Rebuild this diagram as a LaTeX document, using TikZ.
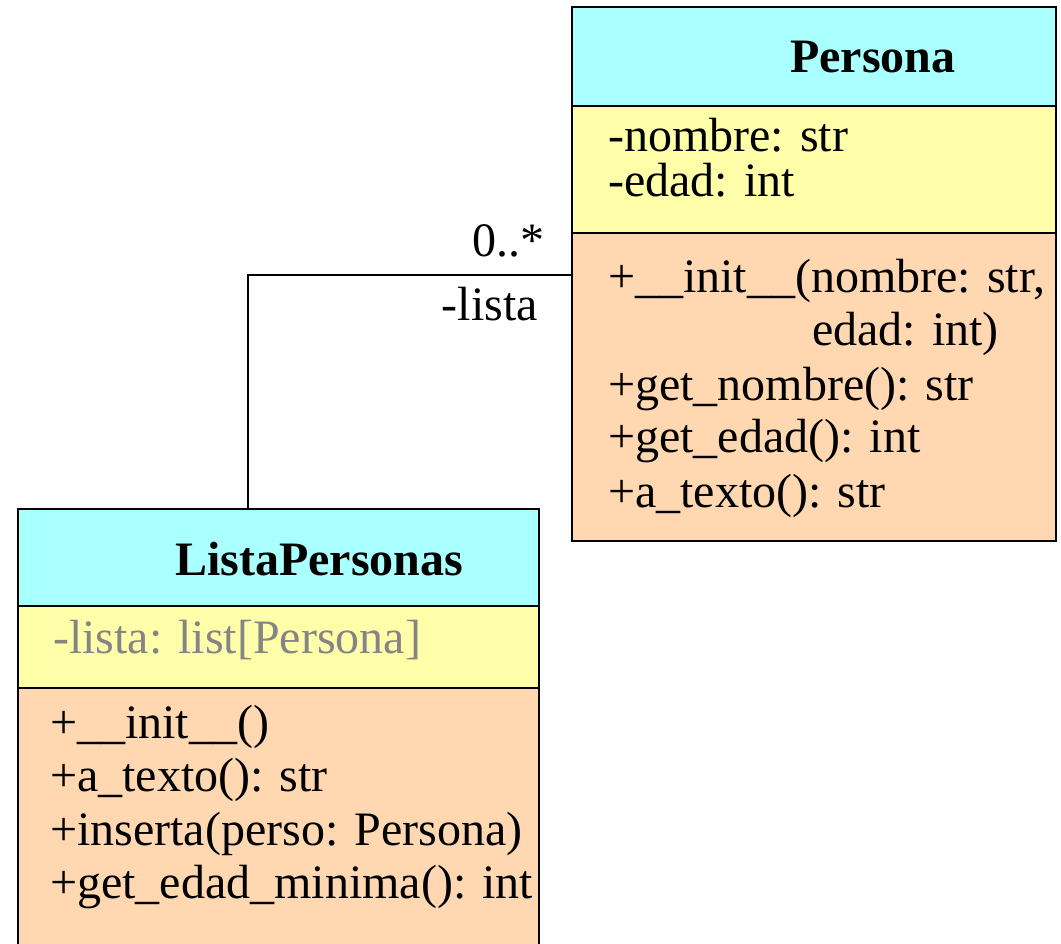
\documentclass[tikz,border=0pt]{standalone}
\usepackage{fontspec}
\setmainfont{Liberation Serif}
\definecolor{umlcyan}{HTML}{AAFFFF}
\definecolor{umlyellow}{HTML}{FFFFAA}
\definecolor{umlpeach}{HTML}{FFD8B1}
\definecolor{umlgray}{HTML}{858585}
\tikzset{compart/.style={draw=black, line width=2.5pt, anchor=north west, inner sep=0pt, outer sep=0pt, fill=#1},
compart/.default={white},
txt/.style={anchor=base west, inner sep=0pt, font=\fontsize{48}{54}\selectfont},
ttl/.style={txt, font=\fontsize{48}{54}\selectfont\bfseries}}

\begin{document}
\begin{tikzpicture}[x=1pt, y=-1pt]

\useasboundingbox (0,0) rectangle (1061,944);
\clip (0,0) rectangle (1061,944);

% Persona
\node[compart=umlcyan, minimum width=484pt, minimum height=99pt] (ptitle) at (572,7) {};
\node[compart=umlyellow, minimum width=484pt, minimum height=127pt] (pattr) at (572,106) {};
\node[compart=umlpeach, minimum width=484pt, minimum height=308pt] (pmeth) at (572,233) {};

\node[ttl] (pname) at (790,73) {Persona};
\node[txt] (pa1) at (608,152) {-nombre: str};
\node[txt] (pa2) at (608,197) {-edad: int};

\node[txt] (pm1) at (608,293) {+\_\_init\_\_(nombre: str,};
\node[txt] (pm2) at (812,345) {edad: int)};
\node[txt] (pm3) at (608,400) {+get\_nombre(): str};
\node[txt] (pm4) at (608,452) {+get\_edad(): int};
\node[txt] (pm5) at (608,507) {+a\_texto(): str};

% ListaPersonas
\node[compart=umlcyan, minimum width=521pt, minimum height=97pt] (ltitle) at (18,509) {};
\node[compart=umlyellow, minimum width=521pt, minimum height=82pt] (lattr) at (18,606) {};
\node[compart=umlpeach, minimum width=521pt, minimum height=290pt] (lmeth) at (18,688) {};

\node[ttl] (lname) at (175,575) {ListaPersonas};
\node[txt, text=umlgray] (la1) at (53,653) {-lista: list[Persona]};

\foreach \t [count=\i] in {+\_\_init\_\_(), +a\_texto(): str, +inserta(perso: Persona), +get\_edad\_minima(): int}
    \node[txt] (lm\i) at (50,684.5+53.5*\i) {\t};

% association
\coordinate (bend) at (248,275);
\draw[line width=2pt] (bend |- ltitle.north) -- (bend) -- (bend -| pmeth.west);
\node[txt, anchor=base east] (mult) at (545,257) {0..*};
\node[txt, anchor=base east] (role) at (538,320) {-lista};

\end{tikzpicture}
\end{document}
